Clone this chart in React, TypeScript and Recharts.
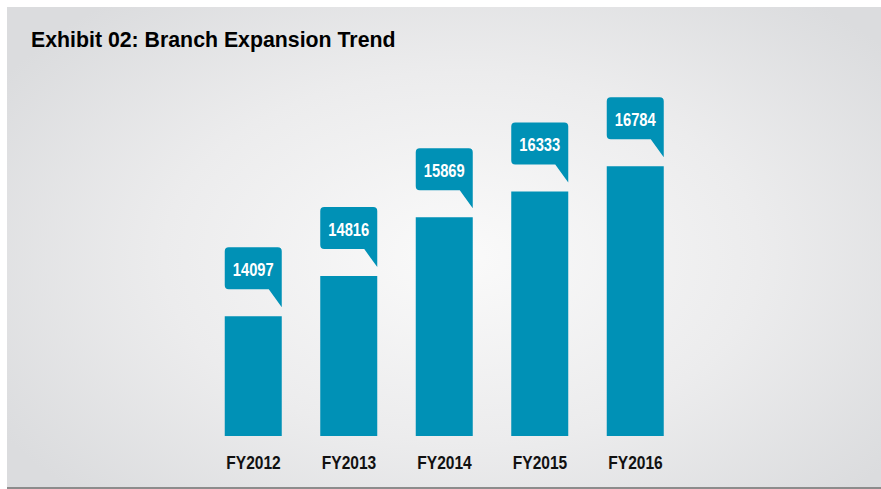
import React from "react";
import { BarChart, Bar, XAxis, YAxis, LabelList } from "recharts";

const categories = ["FY2012", "FY2013", "FY2014", "FY2015", "FY2016"];
const branches = [14097, 14816, 15869, 16333, 16784];
const title = "Exhibit 02: Branch Expansion Trend";

const data = categories.map((c, i) => ({ name: c, value: branches[i] }));

const BAR_COLOR = "#0091b6";
const FONT = "'Liberation Sans', Arial, Helvetica, sans-serif";
const NARROW = 0.82;

const Callout = (props: any) => {
  const { x, y, width, value } = props;
  const left = x;
  const right = x + width;
  const top = y - 69;
  const bottom = y - 27;
  const tip = y - 9;
  const r = 4;
  const d = `M ${left + r} ${top} L ${right - r} ${top} Q ${right} ${top} ${right} ${top + r} L ${right} ${tip} L ${right - 13} ${bottom} L ${left + r} ${bottom} Q ${left} ${bottom} ${left} ${bottom - r} L ${left} ${top + r} Q ${left} ${top} ${left + r} ${top} Z`;
  return (
    <g>
      <path d={d} fill={BAR_COLOR} />
      <g transform={`translate(${x + width / 2}, ${y - 40}) scale(${NARROW}, 1)`}>
        <text x={0} y={0} textAnchor="middle" fill="#ffffff" fontFamily={FONT} fontWeight="bold" fontSize={18}>
          {value}
        </text>
      </g>
    </g>
  );
};

const Tick = (props: any) => {
  const { x, y, payload } = props;
  return (
    <g transform={`translate(${x}, ${y + 33}) scale(${NARROW}, 1)`}>
      <text x={0} y={0} textAnchor="middle" fill="#111111" fontFamily={FONT} fontWeight="bold" fontSize={19}>
        {payload.value}
      </text>
    </g>
  );
};

export default function App() {
  return (
    <div style={{ position: "absolute", left: 0, top: 0, width: 881, height: 489, background: "#ffffff", overflow: "hidden" }}>
      <div
        style={{
          position: "absolute",
          left: 7,
          top: 7,
          width: 874,
          height: 480,
          background: "radial-gradient(ellipse 62% 70% at 52% 52%, #fafafa 0%, #ececed 55%, #dbdcde 100%)",
          borderBottom: "2px solid #8c8c8c",
        }}
      />
      <div
        style={{
          position: "absolute",
          left: 31,
          top: 28,
          fontFamily: FONT,
          fontWeight: "bold",
          fontSize: 21.3,
          lineHeight: "24px",
          color: "#000000",
          whiteSpace: "nowrap",
        }}
      >
        {title}
      </div>
      <div style={{ position: "absolute", left: 0, top: 0 }}>
        <BarChart
          width={881}
          height={489}
          data={data}
          margin={{ top: 60, right: 197.75, bottom: 0, left: 205.75 }}
          barSize={57}
        >
          <XAxis
            dataKey="name"
            axisLine={false}
            tickLine={false}
            tickSize={0}
            tickMargin={0}
            height={53}
            interval={0}
            tick={<Tick />}
          />
          <YAxis hide domain={[11950, 18690]} allowDataOverflow type="number" />
          <Bar dataKey="value" fill={BAR_COLOR} isAnimationActive={false}>
            <LabelList dataKey="value" content={<Callout />} />
          </Bar>
        </BarChart>
      </div>
    </div>
  );
}
